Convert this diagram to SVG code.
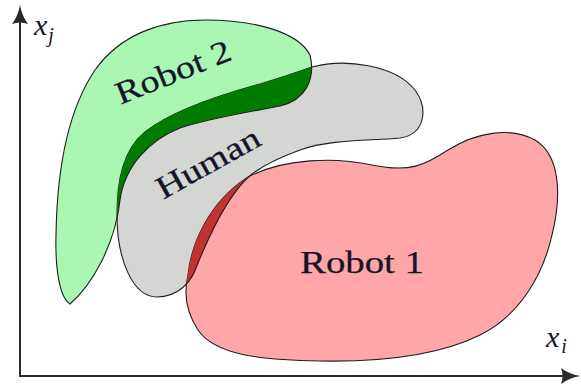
<svg xmlns="http://www.w3.org/2000/svg" width="581" height="385" viewBox="0 0 581 385">
  <style>
    .region{stroke:#1e1e1e;stroke-width:1.1;stroke-linejoin:round}
    .r2{fill:#aaf7b3}
    .hu{fill:#d3d6d3}
    .r1{fill:#ffa6a8}
    .overlap2{fill:#007d00}
    .overlap1{fill:#c53030}
    .lbl{font-family:"Liberation Serif","DejaVu Serif",serif;font-size:32px;fill:#15152a;stroke:#15152a;stroke-width:0.25}
    .math{font-family:"Liberation Serif","DejaVu Serif",serif;font-style:italic;fill:#15152a}
    .axis{stroke:#2b2b2b;stroke-width:2;fill:none}
  </style>
  <defs>
    <path id="p-robot2" d="M70,304 C60,298 55,270 56,235 C57,170 68,110 95,70 C120,35 160,20 205,20 C255,20 298,32 310,55 C316,80 305,100 280,106 C250,112 210,118 180,128 C150,140 125,165 120,200 C115,245 92,285 70,304 Z"/>
    <path id="p-human" d="M117,215 C117,180 123,150 145,132 C170,112 220,95 260,84 C280,78 298,72 312,67 C345,58 395,65 415,90 C428,108 426,134 400,138 C370,141 330,139 300,150 C278,158 264,165 252,174 C232,190 212,228 196,268 C191,282 178,297 157,297 C133,297 117,260 117,215 Z"/>
    <path id="p-robot1" d="M248,177 C285,158 335,157 372,165 C410,173 425,165 448,150 C475,133 510,126 535,140 C560,155 562,195 552,235 C543,275 520,315 480,335 C440,355 380,362 320,361 C260,360 215,355 198,330 C186,312 184,292 188,275 C191,245 208,203 248,177 Z"/>
    <clipPath id="clip-human"><use href="#p-human"/></clipPath>
    <clipPath id="clip-robot1"><use href="#p-robot1"/></clipPath>
    <marker id="arrow" viewBox="0 -9 20 18" refX="3" refY="0" markerWidth="20" markerHeight="18" markerUnits="userSpaceOnUse" orient="auto-start-reverse">
      <path d="M0,-8 Q8,-2 19,0 Q8,2 0,8 Q3,0 0,-8 Z" fill="#2b2b2b"/>
    </marker>
  </defs>

  <!-- coordinate axes -->
  <g id="axes">
    <path class="axis" d="M20,21 V376 H564" marker-start="url(#arrow)" marker-end="url(#arrow)"/>
    <text class="math" x="34" y="35" font-size="30">x<tspan font-size="20" dx="1" dy="7">j</tspan></text>
    <text class="math" x="546" y="347" font-size="30">x<tspan font-size="20" dx="2" dy="6">i</tspan></text>
  </g>

  <!-- reachable regions -->
  <g id="robot2">
    <use href="#p-robot2" class="region r2"/>
  </g>
  <g id="human">
    <use href="#p-human" class="region hu"/>
  </g>
  <g id="robot2-human">
    <use href="#p-robot2" class="region overlap2" clip-path="url(#clip-human)"/>
  </g>
  <g id="robot1">
    <use href="#p-robot1" class="region r1"/>
  </g>
  <g id="robot1-human">
    <use href="#p-human" class="region overlap1" clip-path="url(#clip-robot1)"/>
  </g>

  <!-- labels -->
  <g id="labels">
    <text class="lbl" x="362" y="273" text-anchor="middle" textLength="124" lengthAdjust="spacingAndGlyphs">Robot 1</text>
    <text class="lbl" transform="translate(177,82) rotate(-22)" text-anchor="middle" textLength="122" lengthAdjust="spacingAndGlyphs">Robot 2</text>
    <text class="lbl" transform="translate(213,172) rotate(-29)" text-anchor="middle" textLength="114" lengthAdjust="spacingAndGlyphs">Human</text>
  </g>
</svg>
